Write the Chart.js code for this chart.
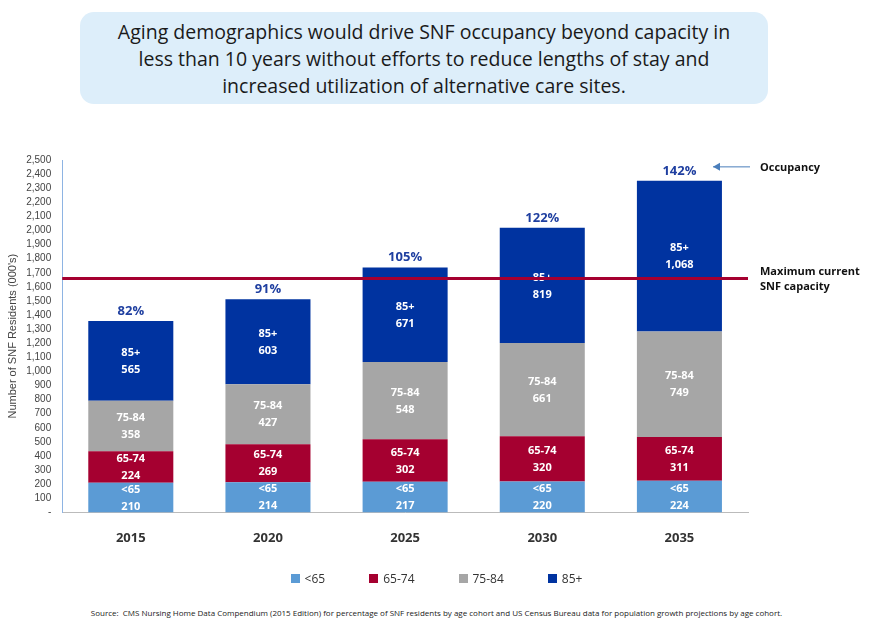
<!DOCTYPE html>
<html><head><meta charset="utf-8">
<script src="https://cdn.jsdelivr.net/npm/chart.js@4"></script>
<style>
body{margin:0;width:873px;height:627px;background:#fff;font-family:"Open Sans",sans-serif;overflow:hidden}
#title{position:absolute;left:80px;top:12px;width:688px;height:92px;background:#ddeefa;border-radius:14px;
 font-size:19.5px;line-height:27px;color:#1a1a1a;text-align:center;box-sizing:border-box;padding:6px 24px 0}
#wrap{position:absolute;left:0;top:0;width:873px;height:600px}
#legend{position:absolute;left:0;width:873px;top:570px;text-align:center;font-size:12px;color:#333}
#legend span{display:inline-block;margin:0 22px}
#legend i{display:inline-block;width:9px;height:9px;margin-right:5px}
#src{position:absolute;left:0;width:873px;top:607px;text-align:center;font-size:8px;color:#222}
</style></head><body>
<div id="wrap"><canvas id="c"></canvas></div>
<div id="title">Aging demographics would drive SNF occupancy beyond capacity in less than 10 years without efforts to reduce lengths of stay and increased utilization of alternative care sites.</div>
<div id="legend"></div>
<div id="src">Source:&nbsp; CMS Nursing Home Data Compendium (2015 Edition) for percentage of SNF residents by age cohort and US Census Bureau data for population growth projections by age cohort.</div>
<script>
const years = ["2015","2020","2025","2030","2035"];
const under65 = [210,214,217,220,224];
const age6574 = [224,269,302,320,311];
const age7584 = [358,427,548,661,749];
const age85 = [565,603,671,819,1068];
const occupancy = ["82%","91%","105%","122%","142%"];
const capacity = 1660;

const segLabels = ["<65","65-74","75-84","85+"];
const segColors = ["#5b9bd5","#a50030","#a6a6a6","#0033a0"];
const series = [under65, age6574, age7584, age85];

document.getElementById("legend").innerHTML = segLabels.map((l,i)=>
  `<span><i style="background:${segColors[i]}"></i>${l.replace("<","&lt;")}</span>`).join("");

const labelPlugin = {
  id:"labels",
  afterDatasetsDraw(chart){
    const ctx = chart.ctx, y = chart.scales.y, a = chart.chartArea;
    ctx.save();
    ctx.textAlign = "center"; ctx.textBaseline = "middle";
    ctx.font = "bold 11px 'Open Sans', sans-serif";
    ctx.fillStyle = "#fff";
    chart.data.datasets.forEach((ds,di)=>{
      chart.getDatasetMeta(di).data.forEach((bar,i)=>{
        const cy = (bar.y + bar.base)/2;
        ctx.fillText(segLabels[di], bar.x, cy - 8);
        ctx.fillText(ds.data[i].toLocaleString("en-US"), bar.x, cy + 9);
      });
    });
    const cyy = y.getPixelForValue(capacity);
    ctx.strokeStyle = "#a50030"; ctx.lineWidth = 3;
    ctx.beginPath(); ctx.moveTo(a.left, cyy); ctx.lineTo(a.right, cyy); ctx.stroke();
    ctx.textBaseline = "alphabetic";
    ctx.font = "bold 13px 'Open Sans', sans-serif";
    ctx.fillStyle = "#1f3fa0";
    const top = chart.getDatasetMeta(3).data;
    top.forEach((bar,i)=> ctx.fillText(occupancy[i], bar.x, bar.y - 6));
    ctx.textAlign = "left"; ctx.fillStyle = "#111";
    ctx.font = "bold 11px 'Open Sans', sans-serif";
    const ly = top[4].y - 14;
    ctx.fillText("Occupancy", 760, ly + 4);
    ctx.strokeStyle = "#4a7ebb"; ctx.lineWidth = 1;
    ctx.beginPath(); ctx.moveTo(750, ly); ctx.lineTo(713, ly); ctx.stroke();
    ctx.beginPath(); ctx.moveTo(713, ly); ctx.lineTo(720, ly - 4); ctx.lineTo(720, ly + 4); ctx.closePath();
    ctx.fillStyle = "#4a7ebb"; ctx.fill();
    ctx.fillStyle = "#111";
    ctx.fillText("Maximum current", 760, cyy - 3);
    ctx.fillText("SNF capacity", 760, cyy + 12);
    ctx.restore();
  }
};

new Chart(document.getElementById("c"), {
  type:"bar",
  data:{
    labels: years,
    datasets: series.map((d,i)=>({label:segLabels[i], data:d, backgroundColor:segColors[i], borderWidth:0}))
  },
  options:{
    animation:false, responsive:true, maintainAspectRatio:false,
    barPercentage:0.62, categoryPercentage:1,
    layout:{padding:{top:160,right:125,left:2,bottom:44}},
    plugins:{ tooltip:{enabled:false}, legend:{display:false} },
    scales:{
      x:{stacked:true, grid:{display:false}, border:{color:"#bbb"},
         ticks:{color:"#333",font:{size:13,weight:"bold",family:"'Open Sans', sans-serif"},padding:10}},
      y:{stacked:true, min:0, max:2500, grid:{display:false},
         border:{color:"#8eb4e3"},
         ticks:{stepSize:100,autoSkip:false,color:"#444",font:{size:10},
           callback:v=> v===0 ? "-" : v.toLocaleString("en-US")},
         title:{display:true,text:"Number of SNF Residents (000's)",color:"#444",font:{size:11}}}
    }
  },
  plugins:[labelPlugin]
});
</script>
</body></html>
